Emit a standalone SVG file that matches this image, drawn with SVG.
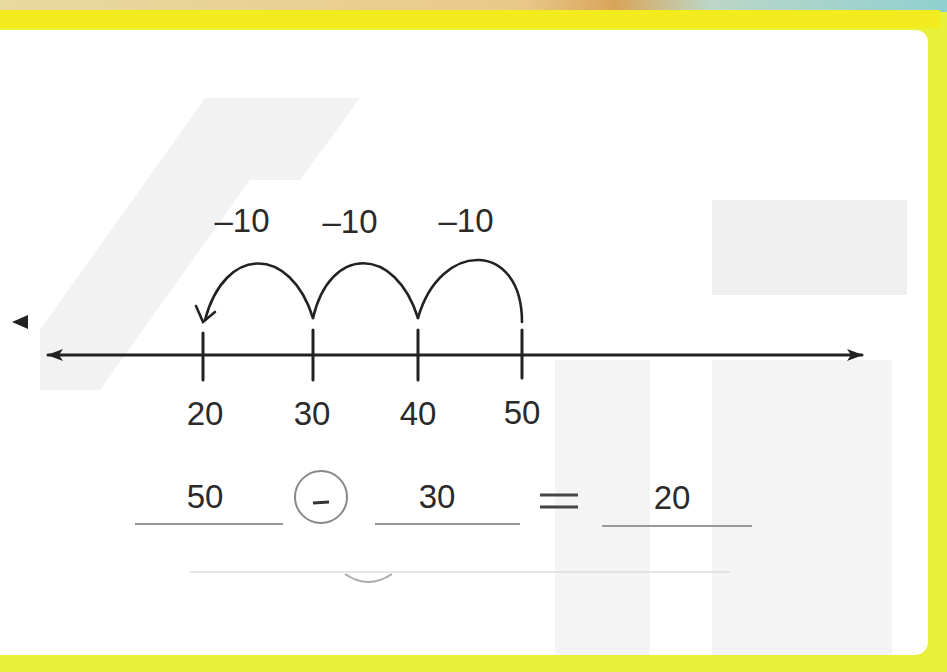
<svg xmlns="http://www.w3.org/2000/svg" width="947" height="672" viewBox="0 0 947 672">
<defs>
<linearGradient id="top" x1="0" y1="0" x2="1" y2="0">
<stop offset="0" stop-color="#e8d9a0"/>
<stop offset="0.55" stop-color="#e9c98a"/>
<stop offset="0.65" stop-color="#d9a45a"/>
<stop offset="0.75" stop-color="#bcd6c8"/>
<stop offset="1" stop-color="#8fd0d0"/>
</linearGradient>
<marker id="ah" viewBox="0 0 16 12" refX="15" refY="6" markerWidth="16" markerHeight="12" markerUnits="userSpaceOnUse" orient="auto-start-reverse">
<path d="M0,0 L16,6 L0,12 L4,6 Z" fill="#222"/>
</marker>
<style>
.ln{stroke:#222;stroke-width:3;fill:none;stroke-linecap:round}
.arc{stroke:#222;stroke-width:2.6;fill:none;stroke-linecap:round}
.t{font-family:"Liberation Sans","DejaVu Sans",sans-serif;font-size:33px;fill:#2a2a2a;text-anchor:middle}
.u{stroke:#999;stroke-width:2;fill:none}
.wm{fill:#efefef}
</style>
</defs>
<rect x="0" y="0" width="947" height="672" fill="#e8f03a"/>
<rect x="0" y="0" width="947" height="12" fill="url(#top)"/>
<rect x="0" y="10" width="940" height="18" fill="#f2ec1e"/>
<path d="M0,30 H914 Q928,30 928,44 V640 Q928,655 913,655 H0 Z" fill="#ffffff"/>
<g id="watermark">
<path class="wm" d="M205,98 L360,98 L300,180 L250,180 L100,390 L40,390 L40,330 Z" opacity="0.8"/>
<rect class="wm" x="712" y="200" width="195" height="95"/>
<rect class="wm" x="555" y="360" width="95" height="295" opacity="0.7"/>
<rect class="wm" x="712" y="360" width="180" height="295" opacity="0.7"/>
</g>
<path d="M12,322 L28,315 L28,329 Z" fill="#222"/>
<g id="connectors">
<line class="ln" x1="48" y1="355" x2="862" y2="355" marker-start="url(#ah)" marker-end="url(#ah)"/>
<path class="arc" d="M522,322 C522,240 440,240 418,318"/>
<path class="arc" d="M418,318 C395,245 330,245 313,318"/>
<path class="arc" d="M313,318 C290,245 225,245 205,320"/>
<path class="arc" d="M196,306 L203,322 L215,312"/>
</g>
<g id="ticks">
<line class="ln" x1="203" y1="333" x2="203" y2="380"/>
<line class="ln" x1="313" y1="330" x2="313" y2="380"/>
<line class="ln" x1="418" y1="330" x2="418" y2="380"/>
<line class="ln" x1="522" y1="330" x2="522" y2="378"/>
</g>
<g id="jump-labels">
<text class="t" x="242" y="232">–10</text>
<text class="t" x="350" y="233">–10</text>
<text class="t" x="466" y="232">–10</text>
</g>
<g id="number-labels">
<text class="t" x="205" y="425">20</text>
<text class="t" x="312" y="425">30</text>
<text class="t" x="418" y="425">40</text>
<text class="t" x="522" y="424">50</text>
</g>
<g id="equation">
<text class="t" x="205" y="508">50</text>
<circle cx="321" cy="497" r="26" fill="none" stroke="#888" stroke-width="2"/>
<line x1="313" y1="503" x2="329" y2="502" stroke="#333" stroke-width="3"/>
<text class="t" x="437" y="508">30</text>
<line x1="540" y1="495" x2="578" y2="495" stroke="#444" stroke-width="3"/>
<line x1="540" y1="507" x2="578" y2="507" stroke="#444" stroke-width="3"/>
<text class="t" x="672" y="509">20</text>
<line class="u" x1="135" y1="524" x2="283" y2="524"/>
<line class="u" x1="375" y1="524" x2="520" y2="524"/>
<line class="u" x1="602" y1="526" x2="752" y2="526"/>
<line x1="190" y1="572" x2="730" y2="572" stroke="#ddd" stroke-width="1.5"/>
<path d="M345,574 Q368,590 392,574" fill="none" stroke="#aaa" stroke-width="2"/>
</g>
</svg>
